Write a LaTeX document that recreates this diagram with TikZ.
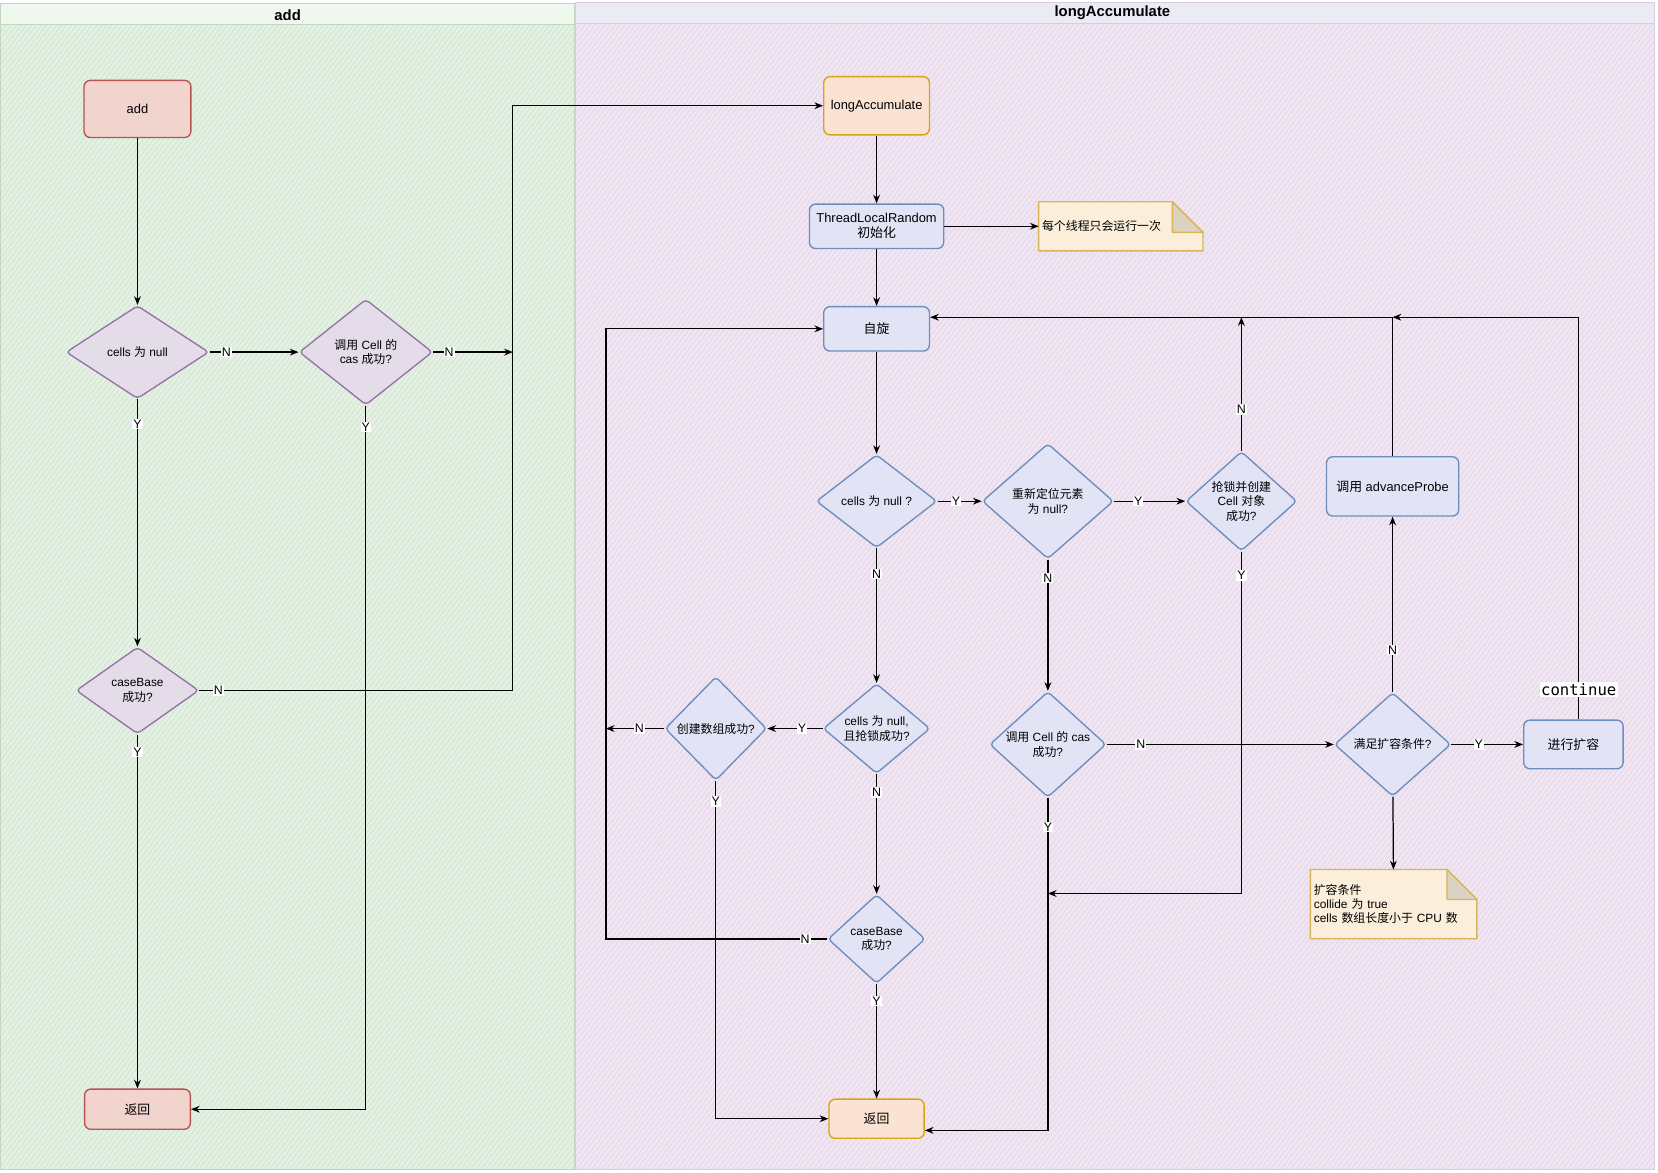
\documentclass[tikz,border=0pt]{standalone}
\usepackage{fontspec}
\setmainfont{Liberation Sans}
\newfontfamily\cjk{Noto Sans CJK SC}
\newfontfamily\monof{DejaVu Sans Mono}
\usetikzlibrary{shapes.geometric,arrows.meta,patterns.meta}
\newcommand\zh[1]{{\cjk #1}}
\pgfdeclarelayer{panels}
\pgfdeclarelayer{notes}
\pgfsetlayers{panels,notes,main}
\definecolor{gfill}{HTML}{E3F1E2}
\definecolor{ghead}{HTML}{F0F7EF}
\definecolor{gline}{HTML}{BFD9BE}
\definecolor{pfill}{HTML}{F1E5F3}
\definecolor{phead}{HTML}{EBEBF6}
\definecolor{pline}{HTML}{D9CCE0}
\definecolor{redb}{HTML}{B85450}
\definecolor{redf}{HTML}{F2D4CF}
\definecolor{purb}{HTML}{9673A6}
\definecolor{purf}{HTML}{E4DDE9}
\definecolor{orb}{HTML}{D9A21B}
\definecolor{orf}{HTML}{FAE3D2}
\definecolor{blb}{HTML}{6C8EBF}
\definecolor{blf}{HTML}{E2E4F6}
\definecolor{ntb}{HTML}{D6B656}
\definecolor{ntf}{HTML}{FBEEDB}
\newcommand\drawnote[2]{%
  \fill[ntf] (#1.north west) -- ([xshift=-#2]#1.north east) -- ([yshift=-#2]#1.north east) -- (#1.south east) -- (#1.south west) -- cycle;
  \draw[ntb, line width=1.1pt, line join=round] (#1.north west) -- ([xshift=-#2]#1.north east) -- ([yshift=-#2]#1.north east) -- (#1.south east) -- (#1.south west) -- cycle;
  \draw[ntb, line width=1.1pt, line join=round, fill=ntf!75!gray] ([xshift=-#2]#1.north east) -- ([xshift=-#2,yshift=-#2]#1.north east) -- ([yshift=-#2]#1.north east) -- cycle;}
\tikzset{
  txtfont/.style={font=\fontsize{9.6}{11.6}\selectfont},
  boxfont/.style={font=\fontsize{10.4}{12}\selectfont},
  boxs/.style n args={2}{boxfont, rectangle, rounded corners=5pt, line width=1.1pt, align=center,
     minimum width={#1*0.03cm}, minimum height={#2*0.03cm}, inner sep=1pt},
  dia/.style n args={2}{diamond, rounded corners=3pt, line width=1.1pt,
     minimum width={#1*0.03cm}, minimum height={#2*0.03cm}, inner sep=0pt},
  dtxt/.style={txtfont, align=center, inner sep=0pt},
  redbox/.style={draw=redb, fill=redf},
  purbox/.style={draw=purb, fill=purf},
  orbox/.style={draw=orb, fill=orf},
  blbox/.style={draw=blb, fill=blf},
  notetxt/.style={txtfont, align=left, inner xsep=0.09cm, inner ysep=0pt},
  arr/.style={-{Stealth[length=7pt,width=5.5pt]}, line width=1pt, black},
  lbl/.style={fill=white, inner sep=0.8pt, font=\fontsize{10}{12}\selectfont},
  contlbl/.style={fill=white, inner sep=1pt, font=\monof\fontsize{12.6}{14}\selectfont},
  ttl/.style={font=\bfseries\fontsize{12}{14}\selectfont},
}
\begin{document}
\begin{tikzpicture}[x=0.03cm, y=-0.03cm]
\useasboundingbox (0,0) rectangle (1568,1109.3);
\begin{pgfonlayer}{panels}
  \fill[white] (0,0) rectangle (1568,1109.3);
  \fill[gfill] (0,3) rectangle (543,1106);
  \fill[pattern={Lines[angle=52,distance=3.2pt,line width=0.25pt]}, pattern color=gfill!88!black] (0,3) rectangle (543,1106);
  \fill[ghead] (0,3) rectangle (543,23);
  \draw[gline, line width=0.8pt] (0,3) rectangle (543,1106);
  \draw[gline, line width=0.8pt] (0,23) -- (543,23);
  \fill[pfill] (544,2) rectangle (1565,1106);
  \fill[pattern={Lines[angle=52,distance=3.2pt,line width=0.25pt]}, pattern color=pfill!88!black] (544,2) rectangle (1565,1106);
  \fill[phead] (544,2) rectangle (1565,22);
  \draw[pline, line width=0.8pt] (544,2) rectangle (1565,1106);
  \draw[pline, line width=0.8pt] (544,22) -- (1565,22);
\end{pgfonlayer}

% titles
\node[ttl] (tadd) at (272,14) {add};
\node[ttl] (tla) at (1052,12) {longAccumulate};

% ---------- add lane ----------
\node[boxs={101}{54}, redbox] (add) at (130,103) {add};
\node[dia={135}{88}, purbox, label={[dtxt]center:{cells \zh{为} null}}] (dnull) at (130,333) {};
\node[dia={126}{100}, purbox, label={[dtxt]center:{\zh{调用} Cell \zh{的}\\cas \zh{成功}?}}] (dcas) at (346,333) {};
\node[dia={116}{82}, purbox, label={[dtxt]center:{caseBase\\\zh{成功}?}}] (dbase) at (130,653) {};
\node[boxs={100}{38}, redbox] (ret1) at (130,1049) {\zh{返回}};
\coordinate (jA) at (485,333);

\draw[arr] (add) -- (dnull);
\draw[arr] (dnull) -- node[lbl,pos=0.19]{N} (dcas);
\draw[arr] (dcas) -- node[lbl,pos=0.2]{N} (jA);
\draw[arr] (dnull) -- node[lbl,pos=0.1]{Y} (dbase);
\draw[arr] (dcas.south) |- node[lbl,pos=0.015]{Y} (ret1.east);
\draw[arr] (dbase) -- node[lbl,pos=0.05]{Y} (ret1);

% ---------- longAccumulate lane ----------
\node[boxs={100}{55}, orbox] (lacc) at (829,100) {longAccumulate};
\node[boxs={127}{42}, blbox] (tlr) at (829,214) {ThreadLocalRandom\\\zh{初始化}};
\node[notetxt, minimum width={155*0.03cm}, minimum height={46*0.03cm}, text width={149*0.03cm}] (n1) at (1060,214) {\zh{每个线程只会运行一次}};
\node[boxs={100}{42}, blbox] (zx) at (829,311) {\zh{自旋}};
\node[dia={114}{88}, blbox, label={[dtxt]center:{cells \zh{为} null ?}}] (c1) at (829,474) {};
\node[dia={124}{109}, blbox, label={[dtxt]center:{\zh{重新定位元素}\\\zh{为} null?}}] (c2) at (991,474) {};
\node[dia={105}{94}, blbox, label={[dtxt]center:{\zh{抢锁并创建}\\Cell \zh{对象}\\\zh{成功}?}}] (c3) at (1174,474) {};
\node[boxs={125}{56}, blbox] (adv) at (1317,460) {\zh{调用} advanceProbe};
\node[dia={101}{85}, blbox, label={[dtxt]center:{cells \zh{为} null,\\\zh{且抢锁成功}?}}] (c4) at (829,689) {};
\node[dia={96}{98}, blbox, label={[dtxt]center:{\zh{创建数组成功}?}}] (c5) at (677,689) {};
\node[dia={110}{100}, blbox, label={[dtxt]center:{\zh{调用} Cell \zh{的} cas\\\zh{成功}?}}] (c6) at (991,704) {};
\node[dia={110}{98}, blbox, label={[dtxt]center:{\zh{满足扩容条件}?}}] (c7) at (1317,704) {};
\node[boxs={94}{46}, blbox] (exp) at (1488,704) {\zh{进行扩容}};
\node[dia={92}{84}, blbox, label={[dtxt]center:{caseBase\\\zh{成功}?}}] (c8) at (829,888) {};
\node[boxs={90}{37}, orbox] (ret2) at (829,1058) {\zh{返回}};
\node[notetxt, minimum width={157*0.03cm}, minimum height={65*0.03cm}, text width={151*0.03cm}] (n2) at (1318,855) {\zh{扩容条件}\\collide \zh{为} true\\cells \zh{数组长度小于} CPU \zh{数}};

\begin{pgfonlayer}{notes}
  \drawnote{n1}{0.87cm}
  \drawnote{n2}{0.85cm}
\end{pgfonlayer}

\coordinate (jB) at (1317,300);
\coordinate (jC) at (1174,300);
\coordinate (jD) at (991,845);
\coordinate (jE) at (573,689);

% add -> longAccumulate
\draw[arr] (dbase.east) -| node[lbl,pos=0.03]{N} (jA) |- (lacc.west);

\draw[arr] (lacc) -- (tlr);
\draw[arr] (tlr) -- (n1);
\draw[arr] (tlr) -- (zx);
\draw[arr] (zx) -- (c1);
\draw[arr] (c1) -- node[lbl,pos=0.42]{Y} (c2);
\draw[arr] (c2) -- node[lbl,pos=0.34]{Y} (c3);
\draw[arr] (c3.north) -- node[lbl,pos=0.31]{N} (jC);
\draw[arr] (adv.north) |- ([yshift=0.33cm]zx.east);
\draw[arr] ([xshift=0.15cm]exp.north) |- node[contlbl,pos=0.037]{continue} (jB);
\draw[arr] (c1) -- node[lbl,pos=0.19]{N} (c4);
\draw[arr] (c2) -- node[lbl,pos=0.14]{N} (c6);
\draw[arr] (c3.south) |- node[lbl,pos=0.035]{Y} (jD);
\draw[arr] (c6) -- node[lbl,pos=0.15]{N} (c7);
\draw[arr] (c6.south) |- node[lbl,pos=0.044]{Y} ([yshift=-0.33cm]ret2.east);
\draw[arr] (c7) -- node[lbl,pos=0.38]{Y} (exp);
\draw[arr] (c7) -- node[lbl,pos=0.24]{N} (adv);
\draw[arr] (c7) -- (n2);
\draw[arr] (c4) -- node[lbl,pos=0.37]{Y} (c5);
\draw[arr] (c5) -- node[lbl,pos=0.43]{N} (jE);
\draw[arr] (c5.south) |- node[lbl,pos=0.03]{Y} (ret2.west);
\draw[arr] (c4) -- node[lbl,pos=0.155]{N} (c8);
\draw[arr] (c8) -- node[lbl,pos=0.15]{Y} (ret2);
\draw[arr] (c8.west) -| node[lbl,pos=0.05]{N} (jE) |- (zx.west);
\end{tikzpicture}
\end{document}
